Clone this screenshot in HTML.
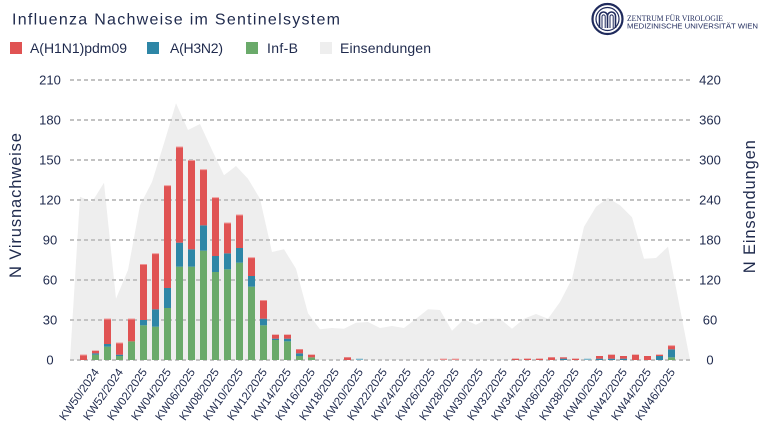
<!DOCTYPE html>
<html>
<head>
<meta charset="utf-8">
<style>
html,body{margin:0;padding:0;background:#fff;}
svg{display:block;}
text{font-family:"Liberation Sans",sans-serif;fill:#1f2a4d;}
</style>
</head>
<body>
<svg width="768" height="440" viewBox="0 0 768 440" xmlns="http://www.w3.org/2000/svg">
<rect width="768" height="440" fill="#fff"/>

<!-- Title -->
<text x="12" y="24.5" font-size="16" textLength="328" lengthAdjust="spacing">Influenza Nachweise im Sentinelsystem</text>

<!-- Legend -->
<rect x="10" y="42" width="12" height="12" fill="#e05353"/>
<text x="30" y="53" font-size="14" textLength="97" lengthAdjust="spacing">A(H1N1)pdm09</text>
<rect x="147" y="42" width="12" height="12" fill="#2e86a6"/>
<text x="170" y="53" font-size="14" textLength="53" lengthAdjust="spacing">A(H3N2)</text>
<rect x="246" y="42" width="12" height="12" fill="#6aaa6a"/>
<text x="267" y="53" font-size="14" textLength="31" lengthAdjust="spacing">Inf-B</text>
<rect x="320" y="42" width="12" height="12" fill="#eeeeee"/>
<text x="340" y="53" font-size="14" textLength="91" lengthAdjust="spacing">Einsendungen</text>

<!-- Logo -->
<g fill="none" stroke="#1f2a5c">
<circle cx="607.5" cy="19" r="15" stroke-width="2.2"/>
<circle cx="607.5" cy="19" r="11.5" stroke-width="1.2"/>
<path d="M599.5 28 V16 a4 4 0 0 1 8 0 V28 M607.5 16 a4 4 0 0 1 8 0 V28" stroke-width="1.6"/>
<path d="M602 28 V16.5 a1.6 1.6 0 0 1 3.2 0 V28 M610 28 V16.5 a1.6 1.6 0 0 1 3.2 0 V28" stroke-width="1"/>
</g>
<text x="627" y="20.8" font-size="8" font-family="Liberation Serif, serif" textLength="96" lengthAdjust="spacingAndGlyphs" style="font-family:'Liberation Serif',serif;fill:#1f2a5c">ZENTRUM FÜR VIROLOGIE</text>
<text x="627" y="28.4" font-size="7.4" textLength="131" lengthAdjust="spacingAndGlyphs" style="fill:#1f2a5c">MEDIZINISCHE UNIVERSITÄT WIEN</text>

<!-- Area (Einsendungen) -->
<polygon fill="#eeeeee" points="70,360 80,196.7 92,202 104,182.7 116,298.7 128,270 140,205.3 152,182 164,143.3 176,103.3 188,130 200,124 212,150 224,175.3 236,166 248,178.7 260,198.7 272,252 284,249.3 296,268.7 308,313.3 320,329.3 332,328 344,328.7 356,322.7 368,322 380,328 392,326 404,328 416,318.7 428,309.3 440,310 452,330.7 464,319.3 476,324.7 488,318.7 500,318.7 512,328.7 524,318.7 536,314 548,318.7 560,302 572,278.7 584,226.7 596,206.7 608,198 620,205.3 632,217.3 644,258.7 656,258 668,246.7 690,360"/>

<!-- Gridlines -->
<g stroke="#c3c3c3" stroke-width="2" stroke-dasharray="4 3">
<line x1="70" y1="80" x2="690" y2="80"/>
<line x1="70" y1="120" x2="690" y2="120"/>
<line x1="70" y1="160" x2="690" y2="160"/>
<line x1="70" y1="200" x2="690" y2="200"/>
<line x1="70" y1="240" x2="690" y2="240"/>
<line x1="70" y1="280" x2="690" y2="280"/>
<line x1="70" y1="320" x2="690" y2="320"/>
<line x1="70" y1="360" x2="690" y2="360"/>
</g>

<!-- Bars: green -->
<g fill="#6aaa6a">
<rect x="92" y="354.67" width="7" height="5.33"/>
<rect x="104" y="346.67" width="7" height="13.33"/>
<rect x="116" y="356" width="7" height="4"/>
<rect x="128" y="341.33" width="7" height="18.67"/>
<rect x="140" y="325.33" width="7" height="34.67"/>
<rect x="152" y="326.67" width="7" height="33.33"/>
<rect x="164" y="308" width="7" height="52"/>
<rect x="176" y="266.67" width="7" height="93.33"/>
<rect x="188" y="266.67" width="7" height="93.33"/>
<rect x="200" y="250.67" width="7" height="109.33"/>
<rect x="212" y="272" width="7" height="88"/>
<rect x="224" y="269.33" width="7" height="90.67"/>
<rect x="236" y="262.67" width="7" height="97.33"/>
<rect x="248" y="286.67" width="7" height="73.33"/>
<rect x="260" y="325.33" width="7" height="34.67"/>
<rect x="272" y="340" width="7" height="20"/>
<rect x="284" y="341.33" width="7" height="18.67"/>
<rect x="296" y="356" width="7" height="4"/>
<rect x="308" y="357.33" width="7" height="2.67"/>
<rect x="668" y="357.33" width="7" height="2.67"/>
</g>
<!-- Bars: blue -->
<g fill="#2e86a6">
<rect x="92" y="353.33" width="7" height="1.34"/>
<rect x="104" y="344" width="7" height="2.67"/>
<rect x="116" y="354.67" width="7" height="1.33"/>
<rect x="140" y="320" width="7" height="5.33"/>
<rect x="152" y="309.33" width="7" height="17.34"/>
<rect x="164" y="288" width="7" height="20"/>
<rect x="176" y="242.67" width="7" height="24"/>
<rect x="188" y="249.33" width="7" height="17.34"/>
<rect x="200" y="225.33" width="7" height="25.34"/>
<rect x="212" y="256" width="7" height="16"/>
<rect x="224" y="253.33" width="7" height="16"/>
<rect x="236" y="248" width="7" height="14.67"/>
<rect x="248" y="276" width="7" height="10.67"/>
<rect x="260" y="318.67" width="7" height="6.66"/>
<rect x="272" y="338.67" width="7" height="1.33"/>
<rect x="284" y="338.67" width="7" height="2.66"/>
<rect x="296" y="353.33" width="7" height="2.67"/>
<rect x="356" y="358.67" width="7" height="1.33" fill="#7fb8cc"/>
<rect x="560" y="358.67" width="7" height="1.33"/>
<rect x="584" y="358.67" width="7" height="1.33" fill="#7fb8cc"/>
<rect x="596" y="358.67" width="7" height="1.33"/>
<rect x="608" y="358.67" width="7" height="1.33"/>
<rect x="620" y="358.67" width="7" height="1.33"/>
<rect x="656" y="356" width="7" height="4"/>
<rect x="668" y="349.33" width="7" height="8"/>
</g>
<!-- Bars: red -->
<g fill="#e05353">
<rect x="80" y="354.67" width="7" height="5.33"/>
<rect x="92" y="350.67" width="7" height="2.67"/>
<rect x="104" y="318.67" width="7" height="25.33"/>
<rect x="116" y="342.67" width="7" height="12"/>
<rect x="128" y="318.67" width="7" height="22.67"/>
<rect x="140" y="264" width="7" height="56"/>
<rect x="152" y="253.33" width="7" height="56"/>
<rect x="164" y="185.33" width="7" height="102.67"/>
<rect x="176" y="146.67" width="7" height="96"/>
<rect x="188" y="160" width="7" height="89.33"/>
<rect x="200" y="169.33" width="7" height="56"/>
<rect x="212" y="197.33" width="7" height="58.67"/>
<rect x="224" y="222.67" width="7" height="30.67"/>
<rect x="236" y="214.67" width="7" height="33.33"/>
<rect x="248" y="257.33" width="7" height="18.67"/>
<rect x="260" y="300" width="7" height="18.67"/>
<rect x="272" y="334.67" width="7" height="4"/>
<rect x="284" y="334.67" width="7" height="4"/>
<rect x="296" y="349.33" width="7" height="4"/>
<rect x="308" y="354.67" width="7" height="2.67"/>
<rect x="344" y="357.33" width="7" height="2.67"/>
<rect x="440" y="358.67" width="7" height="1.33" fill="#eb8f8f"/>
<rect x="452" y="358.67" width="7" height="1.33" fill="#eb8f8f"/>
<rect x="512" y="358.67" width="7" height="1.33"/>
<rect x="524" y="358.67" width="7" height="1.33"/>
<rect x="536" y="358.67" width="7" height="1.33"/>
<rect x="548" y="357.33" width="7" height="2.67"/>
<rect x="560" y="357.33" width="7" height="1.34"/>
<rect x="572" y="358.67" width="7" height="1.33"/>
<rect x="596" y="356" width="7" height="2.67"/>
<rect x="608" y="354.67" width="7" height="4"/>
<rect x="620" y="356" width="7" height="2.67"/>
<rect x="632" y="354.67" width="7" height="5.33"/>
<rect x="644" y="356" width="7" height="4"/>
<rect x="656" y="354.67" width="7" height="1.33"/>
<rect x="668" y="345.33" width="7" height="4"/>
</g>
<!-- top highlights -->
<g fill="#f2a3a3">
<rect x="80" y="354.67" width="7" height="0.8"/>
<rect x="104" y="318.67" width="7" height="0.8"/>
<rect x="116" y="342.67" width="7" height="0.8"/>
<rect x="128" y="318.67" width="7" height="0.8"/>
<rect x="140" y="264" width="7" height="0.8"/>
<rect x="152" y="253.33" width="7" height="0.8"/>
<rect x="164" y="185.33" width="7" height="0.8"/>
<rect x="176" y="146.67" width="7" height="0.8"/>
<rect x="188" y="160" width="7" height="0.8"/>
<rect x="200" y="169.33" width="7" height="0.8"/>
<rect x="212" y="197.33" width="7" height="0.8"/>
<rect x="224" y="222.67" width="7" height="0.8"/>
<rect x="236" y="214.67" width="7" height="0.8"/>
<rect x="248" y="257.33" width="7" height="0.8"/>
<rect x="260" y="300" width="7" height="0.8"/>
<rect x="668" y="345.33" width="7" height="0.8"/>
</g>

<!-- Left axis labels -->
<g font-size="13" text-anchor="middle">
<text x="50" y="84.5">210</text>
<text x="50" y="124.5">180</text>
<text x="50" y="164.5">150</text>
<text x="50" y="204.5">120</text>
<text x="50" y="244.5">90</text>
<text x="50" y="284.5">60</text>
<text x="50" y="324.5">30</text>
<text x="50" y="364.5">0</text>
</g>
<!-- Right axis labels -->
<g font-size="13" text-anchor="middle">
<text x="710" y="84.5">420</text>
<text x="710" y="124.5">360</text>
<text x="710" y="164.5">300</text>
<text x="710" y="204.5">240</text>
<text x="710" y="244.5">180</text>
<text x="710" y="284.5">120</text>
<text x="710" y="324.5">60</text>
<text x="710" y="364.5">0</text>
</g>

<!-- Axis titles -->
<text transform="translate(21,205.5) rotate(-90)" font-size="16.5" text-anchor="middle" textLength="145" lengthAdjust="spacing">N Virusnachweise</text>
<text transform="translate(755,206.7) rotate(-90)" font-size="16.5" text-anchor="middle" textLength="133" lengthAdjust="spacing">N Einsendungen</text>

<!-- X labels -->
<g font-size="11.5" text-anchor="end">
<text transform="translate(99.5,372) rotate(-55)">KW50/2024</text>
<text transform="translate(123.5,372) rotate(-55)">KW52/2024</text>
<text transform="translate(147.5,372) rotate(-55)">KW02/2025</text>
<text transform="translate(171.5,372) rotate(-55)">KW04/2025</text>
<text transform="translate(195.5,372) rotate(-55)">KW06/2025</text>
<text transform="translate(219.5,372) rotate(-55)">KW08/2025</text>
<text transform="translate(243.5,372) rotate(-55)">KW10/2025</text>
<text transform="translate(267.5,372) rotate(-55)">KW12/2025</text>
<text transform="translate(291.5,372) rotate(-55)">KW14/2025</text>
<text transform="translate(315.5,372) rotate(-55)">KW16/2025</text>
<text transform="translate(339.5,372) rotate(-55)">KW18/2025</text>
<text transform="translate(363.5,372) rotate(-55)">KW20/2025</text>
<text transform="translate(387.5,372) rotate(-55)">KW22/2025</text>
<text transform="translate(411.5,372) rotate(-55)">KW24/2025</text>
<text transform="translate(435.5,372) rotate(-55)">KW26/2025</text>
<text transform="translate(459.5,372) rotate(-55)">KW28/2025</text>
<text transform="translate(483.5,372) rotate(-55)">KW30/2025</text>
<text transform="translate(507.5,372) rotate(-55)">KW32/2025</text>
<text transform="translate(531.5,372) rotate(-55)">KW34/2025</text>
<text transform="translate(555.5,372) rotate(-55)">KW36/2025</text>
<text transform="translate(579.5,372) rotate(-55)">KW38/2025</text>
<text transform="translate(603.5,372) rotate(-55)">KW40/2025</text>
<text transform="translate(627.5,372) rotate(-55)">KW42/2025</text>
<text transform="translate(651.5,372) rotate(-55)">KW44/2025</text>
<text transform="translate(675.5,372) rotate(-55)">KW46/2025</text>
</g>
</svg>
</body>
</html>
